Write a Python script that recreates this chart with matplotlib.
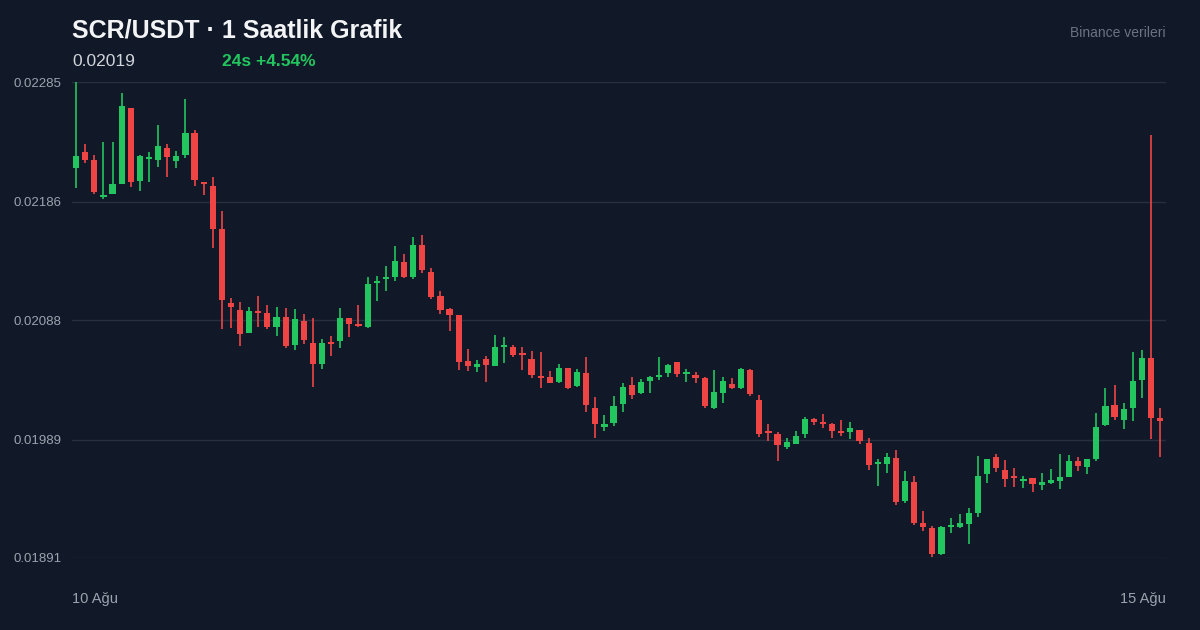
import matplotlib
matplotlib.use("Agg")
import matplotlib.pyplot as plt
import numpy as np

plt.rcParams['font.family'] = ['Liberation Sans', 'DejaVu Sans']

# saatlik mumlar (acilis, en yuksek, en dusuk, kapanis)
opens = [0.022138, 0.022271, 0.022204, 0.021898, 0.021923, 0.022006, 0.022635, 0.022031, 0.022213, 0.022204,
         0.022304, 0.022196, 0.022246, 0.022428, 0.022022, 0.021989, 0.021633, 0.021021, 0.020963, 0.020772,
         0.020954, 0.020938, 0.020822, 0.020905, 0.020673, 0.020872, 0.020690, 0.020516, 0.020698, 0.020706,
         0.020897, 0.020847, 0.020822, 0.021186, 0.021219, 0.021236, 0.021360, 0.021236, 0.021501, 0.021277,
         0.021079, 0.020971, 0.020921, 0.020541, 0.020491, 0.020557, 0.020499, 0.020657, 0.020657, 0.020607,
         0.020557, 0.020416, 0.020408, 0.020367, 0.020483, 0.020334, 0.020441, 0.020152, 0.019994, 0.020027,
         0.020185, 0.020342, 0.020276, 0.020375, 0.020408, 0.020441, 0.020532, 0.020433, 0.020425, 0.020400,
         0.020152, 0.020276, 0.020350, 0.020317, 0.020466, 0.020218, 0.019961, 0.019936, 0.019829, 0.019854,
         0.019936, 0.020061, 0.020036, 0.020019, 0.019961, 0.019953, 0.019970, 0.019862, 0.019688, 0.019688,
         0.019738, 0.019382, 0.019539, 0.019200, 0.019158, 0.018943, 0.019167, 0.019167, 0.019191, 0.019282,
         0.019605, 0.019746, 0.019638, 0.019580, 0.019547, 0.019572, 0.019514, 0.019531, 0.019547, 0.019580,
         0.019713, 0.019663, 0.019729, 0.020011, 0.020176, 0.020052, 0.020152, 0.020383, 0.020565, 0.020069]
highs = [0.022850, 0.022337, 0.022246, 0.022353, 0.022353, 0.022759, 0.022635, 0.022246, 0.022271, 0.022494,
         0.022337, 0.022279, 0.022709, 0.022453, 0.022022, 0.022064, 0.021782, 0.021062, 0.021029, 0.020988,
         0.021079, 0.021004, 0.020988, 0.020979, 0.020971, 0.020930, 0.020897, 0.020723, 0.020748, 0.020979,
         0.020897, 0.021004, 0.021236, 0.021244, 0.021327, 0.021493, 0.021426, 0.021567, 0.021584, 0.021310,
         0.021120, 0.020979, 0.020921, 0.020640, 0.020549, 0.020582, 0.020756, 0.020739, 0.020673, 0.020657,
         0.020623, 0.020615, 0.020458, 0.020516, 0.020483, 0.020474, 0.020574, 0.020243, 0.020094, 0.020251,
         0.020359, 0.020408, 0.020392, 0.020416, 0.020574, 0.020516, 0.020532, 0.020474, 0.020450, 0.020408,
         0.020466, 0.020408, 0.020400, 0.020483, 0.020474, 0.020259, 0.020019, 0.019953, 0.019903, 0.019961,
         0.020077, 0.020069, 0.020102, 0.020027, 0.020052, 0.020036, 0.019970, 0.019903, 0.019729, 0.019779,
         0.019804, 0.019630, 0.019589, 0.019299, 0.019175, 0.019175, 0.019241, 0.019274, 0.019324, 0.019754,
         0.019729, 0.019771, 0.019721, 0.019655, 0.019589, 0.019572, 0.019614, 0.019647, 0.019771, 0.019763,
         0.019746, 0.019729, 0.020110, 0.020317, 0.020342, 0.020193, 0.020615, 0.020632, 0.022411, 0.020152]
lows = [0.021973, 0.022180, 0.021923, 0.021882, 0.021923, 0.022006, 0.021981, 0.021948, 0.022022, 0.022146,
        0.022064, 0.022138, 0.022221, 0.021989, 0.021915, 0.021476, 0.020806, 0.020814, 0.020665, 0.020772,
        0.020822, 0.020806, 0.020748, 0.020648, 0.020632, 0.020681, 0.020325, 0.020474, 0.020582, 0.020648,
        0.020739, 0.020822, 0.020814, 0.021037, 0.021120, 0.021203, 0.021228, 0.021219, 0.021269, 0.021054,
        0.020930, 0.020789, 0.020466, 0.020458, 0.020450, 0.020367, 0.020499, 0.020524, 0.020574, 0.020466,
        0.020400, 0.020317, 0.020359, 0.020359, 0.020309, 0.020325, 0.020119, 0.019903, 0.019961, 0.020003,
        0.020119, 0.020226, 0.020267, 0.020276, 0.020383, 0.020408, 0.020408, 0.020367, 0.020359, 0.020152,
        0.020143, 0.020193, 0.020309, 0.020309, 0.020251, 0.019912, 0.019878, 0.019713, 0.019812, 0.019854,
        0.019903, 0.020011, 0.019986, 0.019903, 0.019920, 0.019895, 0.019854, 0.019638, 0.019506, 0.019614,
        0.019349, 0.019365, 0.019183, 0.019134, 0.018918, 0.018935, 0.019117, 0.019158, 0.019026, 0.019249,
        0.019531, 0.019622, 0.019498, 0.019498, 0.019489, 0.019456, 0.019473, 0.019522, 0.019481, 0.019580,
        0.019630, 0.019605, 0.019713, 0.020003, 0.020052, 0.019978, 0.020044, 0.020234, 0.019895, 0.019746]
closes = [0.022238, 0.022204, 0.021940, 0.021915, 0.022006, 0.022651, 0.022022, 0.022238, 0.022229, 0.022320,
          0.022229, 0.022238, 0.022428, 0.022039, 0.022006, 0.021633, 0.021046, 0.020988, 0.020764, 0.020954,
          0.020938, 0.020822, 0.020905, 0.020665, 0.020888, 0.020714, 0.020516, 0.020690, 0.020681, 0.020897,
          0.020847, 0.020830, 0.021178, 0.021203, 0.021228, 0.021368, 0.021236, 0.021501, 0.021294, 0.021070,
          0.020963, 0.020921, 0.020532, 0.020499, 0.020516, 0.020508, 0.020657, 0.020673, 0.020590, 0.020590,
          0.020425, 0.020400, 0.020359, 0.020483, 0.020317, 0.020450, 0.020176, 0.020019, 0.020019, 0.020168,
          0.020325, 0.020259, 0.020367, 0.020408, 0.020416, 0.020508, 0.020433, 0.020441, 0.020400, 0.020168,
          0.020284, 0.020375, 0.020317, 0.020474, 0.020267, 0.019936, 0.019945, 0.019845, 0.019870, 0.019920,
          0.020061, 0.020036, 0.020019, 0.019961, 0.019945, 0.019986, 0.019878, 0.019680, 0.019705, 0.019746,
          0.019374, 0.019547, 0.019200, 0.019167, 0.018943, 0.019167, 0.019183, 0.019200, 0.019282, 0.019589,
          0.019729, 0.019655, 0.019564, 0.019572, 0.019564, 0.019522, 0.019539, 0.019556, 0.019580, 0.019713,
          0.019672, 0.019729, 0.019994, 0.020168, 0.020077, 0.020143, 0.020375, 0.020565, 0.020069, 0.020044]

y_ticks = [0.02285, 0.02186, 0.02088, 0.01989, 0.01891]
x_labels = ["10 Ağu", "15 Ağu"]

BG = "#111827"
GREEN = "#22c55e"
RED = "#ef4444"

fig = plt.figure(figsize=(12, 6.3), dpi=100, facecolor=BG)
ax = fig.add_axes([0.06, 0.1143, 0.9117, 0.7555], facecolor=BG)

o = np.array(opens)
h = np.array(highs)
l = np.array(lows)
c = np.array(closes)
x = np.arange(len(o))
colors = [GREEN if cc >= oo else RED for oo, cc in zip(o, c)]

# fitiller ve govdeler
ax.vlines(x, l, h, colors=colors, linewidth=1.2, zorder=2)
bottom = np.minimum(o, c)
height = np.maximum(np.abs(c - o), 0.000015)
ax.bar(x, height, bottom=bottom, width=0.68, color=colors, linewidth=0, zorder=3)

ax.set_xlim(-0.45, 119.65)
ax.set_ylim(min(y_ticks), max(y_ticks))
ax.set_yticks(y_ticks)
ax.set_yticklabels([f"{t:.5f}" for t in y_ticks])
ax.set_xticks([])
ax.tick_params(axis='y', length=0, pad=7.5, labelsize=9.5, labelcolor="#9ca3af")
for s in ax.spines.values():
    s.set_visible(False)
for t in y_ticks:
    ax.axhline(t, color="#263040", linewidth=1, zorder=1)

ax.text(0, -0.086, x_labels[0], transform=ax.transAxes, ha='left', va='center',
        fontsize=10.5, color="#9ca3af")
ax.text(1, -0.086, x_labels[1], transform=ax.transAxes, ha='right', va='center',
        fontsize=10.5, color="#9ca3af")

fig.text(0.06, 1 - 30 / 630, "SCR/USDT · 1 Saatlik Grafik", ha='left', va='center',
         fontsize=18, fontweight='bold', color="#f3f4f6")
fig.text(0.06, 1 - 61 / 630, "0.02019", ha='left', va='center', fontsize=12.5, color="#d1d5db")
fig.text(222 / 1200, 1 - 61 / 630, "24s +4.54%", ha='left', va='center', fontsize=12.5,
         fontweight='bold', color=GREEN)
fig.text(1166 / 1200, 1 - 33 / 630, "Binance verileri", ha='right', va='center',
         fontsize=10, color="#6b7280")

fig.savefig("out.png", dpi=100, facecolor=BG)
